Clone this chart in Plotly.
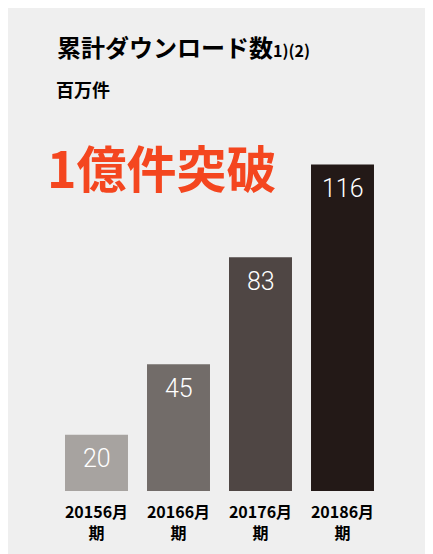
import plotly.graph_objects as go

categories = ["20156月<br>期", "20166月<br>期", "20176月<br>期", "20186月<br>期"]
values = [20, 45, 83, 116]
bar_colors = ["#a7a3a0", "#726c69", "#4f4644", "#231917"]
title_main = "累計ダウンロード数"
title_note = "1)(2)"
unit_label = "百万件"
headline = "1億件突破"

x_idx = list(range(len(categories)))

fig = go.Figure()
fig.add_trace(go.Bar(
    x=x_idx, y=values,
    marker=dict(color=bar_colors, line=dict(width=0)),
    hoverinfo="skip",
))

for xi, v in zip(x_idx, values):
    fig.add_annotation(
        x=xi, y=v, xref="x", yref="y",
        text=str(v), showarrow=False,
        yanchor="middle", yshift=-24,
        font=dict(family="Roboto", size=25, color="white", weight=300),
    )

fig.add_annotation(
    x=0.1108, y=0.9304, xref="paper", yref="paper",
    xanchor="left", yanchor="middle", showarrow=False,
    text=f"<b>{title_main}</b><b><span style='font-size:16px'>{title_note}</span></b>",
    font=dict(family="Noto Sans CJK JP", size=24, color="black"),
)
fig.add_annotation(
    x=0.1085, y=0.8516, xref="paper", yref="paper",
    xanchor="left", yanchor="middle", showarrow=False,
    text=f"<b>{unit_label}</b>",
    font=dict(family="Noto Sans CJK JP", size=18, color="black"),
)
fig.add_annotation(
    x=0.0873, y=0.7106, xref="paper", yref="paper",
    xanchor="left", yanchor="middle", showarrow=False,
    text=f"<b>{headline}</b>",
    font=dict(family="Noto Sans CJK JP", size=50, color="#f4461f"),
)

fig.update_layout(
    width=424, height=546,
    margin=dict(l=0, r=0, t=0, b=0),
    paper_bgcolor="#efefef",
    plot_bgcolor="rgba(0,0,0,0)",
    showlegend=False,
    bargap=0.232,
    xaxis=dict(
        domain=[0.11203, 0.88561],
        range=[-0.5, 3.5],
        tickmode="array", tickvals=x_idx,
        ticktext=[f"<b>{c}</b>" for c in categories],
        tickfont=dict(family="Noto Sans CJK JP", size=16, color="black"),
        showgrid=False, zeroline=False, showline=False,
        ticks="", ticklabelstandoff=10,
    ),
    yaxis=dict(
        domain=[0.11538, 0.78571],
        range=[0, 130],
        visible=False, showgrid=False, zeroline=False,
    ),
)

fig.write_html("out.html")
